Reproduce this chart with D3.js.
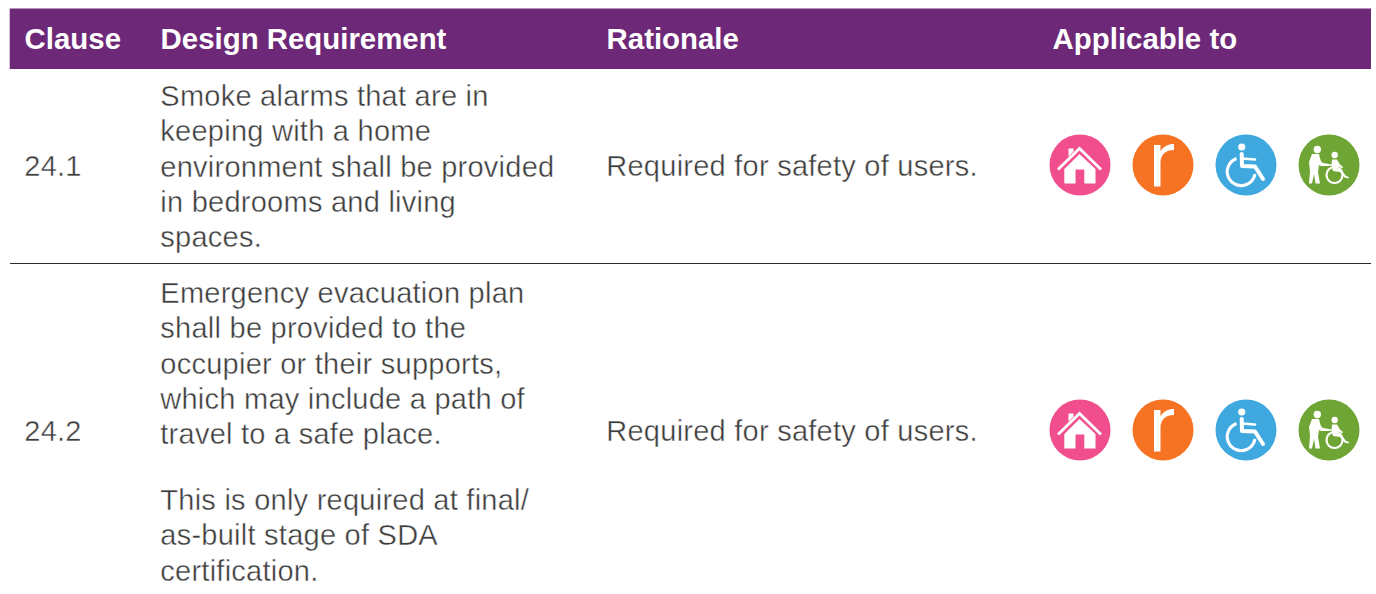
<!DOCTYPE html>
<html>
<head>
<meta charset="utf-8">
<script src="https://cdn.jsdelivr.net/npm/d3@7"></script>
<style>
  html, body { margin: 0; padding: 0; background: #fff; }
  svg { display: block; }
  text { font-family: "Liberation Sans", Arial, sans-serif; }
</style>
</head>
<body>
<script>
const headers = ['Clause', 'Design Requirement', 'Rationale', 'Applicable to']
const clauses = ['24.1', '24.2']
// each clause is a list of paragraphs, each paragraph a list of lines
const requirements = [
  [
    [
      'Smoke alarms that are in',
      'keeping with a home',
      'environment shall be provided',
      'in bedrooms and living',
      'spaces.'
    ]
  ],
  [
    [
      'Emergency evacuation plan',
      'shall be provided to the',
      'occupier or their supports,',
      'which may include a path of',
      'travel to a safe place.'
    ],
    [
      'This is only required at final/',
      'as-built stage of SDA',
      'certification.'
    ]
  ]
]
const rationales = ['Required for safety of users.', 'Required for safety of users.']
const icons = ['home', 'r', 'wheelchair', 'carer']
const iconColors = ['#f04e8c', '#f57322', '#3fa9df', '#6fa534']

const width = 1376
const height = 594
const white = '#fff'
const textColor = '#3c3c3c'
const fontSize = 29
const lineHeight = 35.25
const paragraphGap = 30.8

const colX = d3.scaleOrdinal().domain(headers).range([25, 161, 607, 1053])
const iconX = d3.scalePoint().domain(icons).range([1080, 1329])
const iconR = 30.5
const firstBaseline = d3.scaleOrdinal().domain(clauses).range([106, 303])
const midBaseline = d3.scaleOrdinal().domain(clauses).range([176, 441])
const iconY = d3.scaleOrdinal().domain(clauses).range([165, 430])

const svg = d3.select('body').append('svg')
  .attr('width', width)
  .attr('height', height)

// header band
svg.append('rect')
  .attr('x', 9.7).attr('y', 8.5)
  .attr('width', 1361.3).attr('height', 60.5)
  .attr('fill', '#6d2977')

svg.selectAll('text.head')
  .data(headers)
  .join('text')
  .attr('class', 'head')
  .attr('x', d => colX(d) - 0.4)
  .attr('y', 49)
  .attr('fill', white)
  .attr('font-size', 29.4)
  .attr('font-weight', 700)
  .text(d => d)

// row separator
svg.append('line')
  .attr('x1', 10).attr('x2', 1371)
  .attr('y1', 263.5).attr('y2', 263.5)
  .attr('stroke', '#2a2a2a')
  .attr('stroke-width', 1)

const rows = svg.selectAll('g.row')
  .data(clauses)
  .join('g')
  .attr('class', 'row')

// white hairline thins the regular weight towards the light face of the original
const bodyText = (sel) => sel
  .attr('fill', textColor)
  .attr('font-size', fontSize)
  .attr('letter-spacing', 0.25)
  .attr('stroke', white)
  .attr('stroke-width', 0.4)

rows.append('text')
  .call(bodyText)
  .attr('x', colX(headers[0]) - 0.7)
  .attr('y', d => midBaseline(d))
  .text(d => d)

rows.append('text')
  .call(bodyText)
  .attr('x', colX(headers[2]) - 0.7)
  .attr('y', d => midBaseline(d))
  .text((d, i) => rationales[i])

rows.each(function (d, i) {
  let y = firstBaseline(d)
  const lines = []
  requirements[i].forEach(paragraph => {
    paragraph.forEach(line => {
      lines.push({ line, y })
      y += lineHeight
    })
    y += paragraphGap
  })
  d3.select(this).selectAll('text.req')
    .data(lines)
    .join('text')
    .attr('class', 'req')
    .call(bodyText)
    .attr('x', colX(headers[1]) - 0.7)
    .attr('y', l => l.y)
    .text(l => l.line)
})

// glyphs are drawn around 0,0 in px
function drawHome (g) {
  g.append('path')
    .attr('fill', white)
    .attr('d', 'M-23,3.5 L-0.5,-18.5 L22,3.5 L20,5.5 L-0.5,-14.5 L-21,5.5 Z M-11.5,-16.5 L-6.5,-16.5 L-6.5,-13.5 L-11.5,-8.5 Z')
  g.append('path')
    .attr('fill', white)
    .attr('d', 'M-0.5,-11 L15.5,4 L15.5,18.5 L4.3,18.5 L4.3,4.5 L-4.5,4.5 L-4.5,18.5 L-15.7,18.5 L-15.7,4 Z')
}

function drawR (g) {
  g.append('path')
    .attr('fill', white)
    .attr('d', 'M-9,21.5 L-9,-20 L-2.5,-20 L-2.5,-13.5 C0,-18.5 5,-21 11,-21 L11,-15 C3,-15 -2.5,-11 -2.5,-2 L-2.5,21.5 Z')
}

function drawWheelchair (g) {
  g.append('circle').attr('cx', -4.3).attr('cy', -18).attr('r', 3.6).attr('fill', white)
  g.append('path')
    .attr('fill', 'none').attr('stroke', white).attr('stroke-width', 4)
    .attr('stroke-linecap', 'round').attr('stroke-linejoin', 'round')
    .attr('d', 'M-4.3,-11 L-4,1 L9,1.5 L17,14')
  g.append('path')
    .attr('fill', 'none').attr('stroke', white).attr('stroke-width', 2.6)
    .attr('stroke-linecap', 'round')
    .attr('d', 'M-4,-6.5 L9,-5.5')
  g.append('path')
    .attr('fill', 'none').attr('stroke', white).attr('stroke-width', 3)
    .attr('d', 'M-9.5,-6.5 A14,14 0 1 0 9,9')
}

function drawCarer (g) {
  g.append('circle').attr('cx', -11.7).attr('cy', -15.5).attr('r', 3.7).attr('fill', white)
  g.append('path')
    .attr('fill', white)
    .attr('d', 'M-17,-11 L-10,-11 C-9,-6 -8,-3 -6,-2 L0,-1 L0,1 L-8,1 L-10,0 L-11,7 L-9,18.5 L-13.5,18.5 L-15,9 L-17,18.5 L-20,18.5 L-19,6 L-20,-3 Z')
  g.append('path')
    .attr('fill', 'none').attr('stroke', white).attr('stroke-width', 1.4)
    .attr('d', 'M-2,0 L5,0 L5,3')
  g.append('circle').attr('cx', 5.7).attr('cy', -10).attr('r', 3.2).attr('fill', white)
  g.append('path')
    .attr('fill', white)
    .attr('d', 'M3,-5.5 L8,-5.5 L11,-0.5 L14,2 L13,3.5 L9,1.5 L8,4 L12,4 L17,11 L20,12 L19.5,13.5 L15.5,12.5 L11,7 L4,6 L2.5,0 Z')
  g.append('circle')
    .attr('cx', 5.5).attr('cy', 10).attr('r', 8)
    .attr('fill', 'none').attr('stroke', white).attr('stroke-width', 2.2)
}

const drawers = { home: drawHome, r: drawR, wheelchair: drawWheelchair, carer: drawCarer }

rows.each(function (d) {
  const icon = d3.select(this).selectAll('g.icon')
    .data(icons)
    .join('g')
    .attr('class', 'icon')
    .attr('transform', name => `translate(${iconX(name)},${iconY(d)})`)
  icon.append('circle')
    .attr('r', iconR)
    .attr('fill', (name, i) => iconColors[i])
  icon.each(function (name) {
    drawers[name](d3.select(this))
  })
})
</script>
</body>
</html>
